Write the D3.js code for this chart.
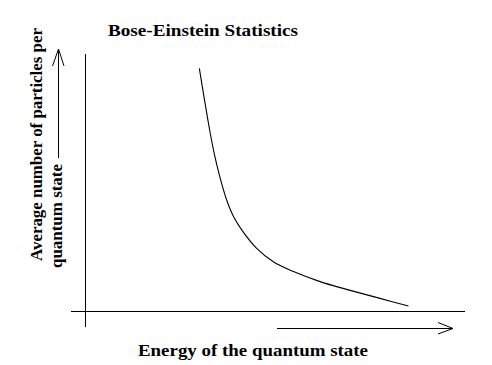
<!DOCTYPE html>
<html><head><meta charset="utf-8">
<script src="https://cdn.jsdelivr.net/npm/d3@7"></script>
<style>
html,body{margin:0;padding:0;background:#fff;}
text{font-family:"Liberation Serif","Times New Roman",serif;font-weight:bold;fill:#000;}
</style></head>
<body>
<svg id="chart" width="492" height="365"></svg>
<script>
const title = "Bose-Einstein Statistics";
const xLabel = "Energy of the quantum state";
const yLabelLines = ["Average number of particles per", "quantum state"];
// Energy (arbitrary units) and average occupancy (arbitrary units)
const energy    = [30.0, 31.5, 32.8, 34.1, 35.4, 37.2, 39.0, 41.4, 45.1, 49.5, 54.8, 61.8, 68.8, 77.6, 85.1];
const occupancy = [94.4, 80.9, 69.8, 60.1, 52.3, 43.3, 36.9, 31.2, 24.5, 19.3, 15.5, 11.6, 8.6, 5.1, 2.1];

const svg = d3.select("#chart");
const x = d3.scaleLinear().domain([0, 100]).range([85.5, 465]);
const y = d3.scaleLinear().domain([0, 100]).range([311.5, 54]);

// axes (plain lines, no ticks)
svg.append("line").attr("x1", x(-3.8)).attr("x2", x(100)).attr("y1", y(0)).attr("y2", y(0))
  .attr("stroke", "#000").attr("shape-rendering", "crispEdges");
svg.append("line").attr("x1", x(0)).attr("x2", x(0)).attr("y1", y(100)).attr("y2", y(-6))
  .attr("stroke", "#000").attr("shape-rendering", "crispEdges");

// curve
const data = energy.map((e, i) => ({e, n: occupancy[i]}));
svg.append("path").datum(data)
  .attr("fill", "none").attr("stroke", "#000").attr("stroke-width", 1.1)
  .attr("d", d3.line().x(d => x(d.e)).y(d => y(d.n)).curve(d3.curveCatmullRom.alpha(0.5)));

// title
svg.append("text").attr("x", 108).attr("y", 36).attr("font-size", 17)
  .attr("textLength", 190).attr("lengthAdjust", "spacingAndGlyphs").text(title);

// x label and arrow
svg.append("text").attr("x", 138).attr("y", 356).attr("font-size", 17)
  .attr("textLength", 230).attr("lengthAdjust", "spacingAndGlyphs").text(xLabel);
svg.append("path").attr("fill", "none").attr("stroke", "#000")
  .attr("d", "M277,328.5H453 M438,322.5L453,328.5L438,334");

// y label (rotated) and arrow
svg.append("text").attr("transform", "translate(42,261) rotate(-90)").attr("font-size", 17)
  .attr("textLength", 233).attr("lengthAdjust", "spacingAndGlyphs").text(yLabelLines[0]);
svg.append("text").attr("transform", "translate(62,268) rotate(-90)").attr("font-size", 17)
  .attr("textLength", 104).attr("lengthAdjust", "spacingAndGlyphs").text(yLabelLines[1]);
svg.append("path").attr("fill", "none").attr("stroke", "#000")
  .attr("d", "M58.5,158V49 M52.5,66L58.5,49L64,66");
</script>
</body></html>
